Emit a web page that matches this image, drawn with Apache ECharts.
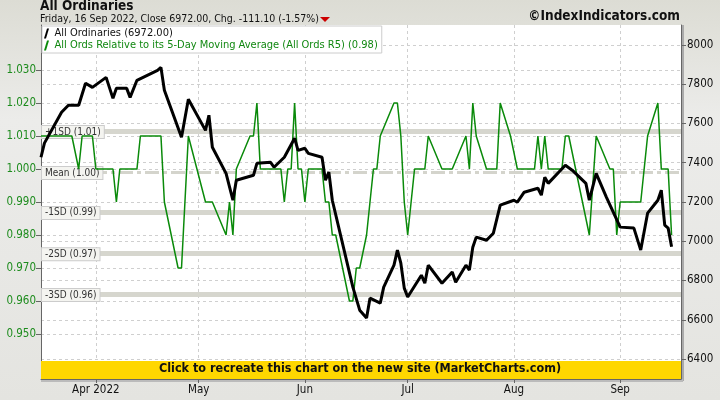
<!DOCTYPE html>
<html><head><meta charset="utf-8">
<script src="https://cdn.jsdelivr.net/npm/echarts@6/dist/echarts.min.js"></script>
<style>html,body{margin:0;padding:0;}#c{width:720px;height:400px;background:linear-gradient(#dcdcd4,#ececea 30%,#e4e4e0);}</style>
</head><body><div id="c"></div>
<script>
const priceData = [
['2022-03-16',7428],['2022-03-17',7500],['2022-03-22',7657],['2022-03-24',7693],['2022-03-27',7693],['2022-03-29',7805],['2022-03-31',7784],
['2022-04-04',7835],['2022-04-06',7728],['2022-04-07',7779],['2022-04-10',7779],['2022-04-11',7733],['2022-04-13',7820],['2022-04-19',7871],
['2022-04-20',7886],['2022-04-21',7769],['2022-04-26',7530],['2022-04-28',7723],['2022-05-03',7565],['2022-05-04',7642],['2022-05-05',7479],
['2022-05-09',7346],['2022-05-11',7209],['2022-05-12',7311],['2022-05-17',7336],['2022-05-18',7397],['2022-05-22',7402],['2022-05-23',7377],
['2022-05-26',7428],['2022-05-29',7525],['2022-05-30',7463],['2022-06-01',7474],['2022-06-02',7448],['2022-06-06',7428],['2022-06-07',7311],
['2022-06-08',7352],['2022-06-09',7209],['2022-06-15',6766],['2022-06-17',6649],['2022-06-19',6609],['2022-06-20',6710],['2022-06-23',6685],
['2022-06-24',6766],['2022-06-27',6878],['2022-06-28',6955],['2022-06-29',6888],['2022-06-30',6761],['2022-07-01',6716],['2022-07-05',6827],
['2022-07-06',6786],['2022-07-07',6878],['2022-07-11',6786],['2022-07-14',6843],['2022-07-15',6791],['2022-07-18',6878],['2022-07-19',6853],
['2022-07-20',6970],['2022-07-21',7021],['2022-07-24',7005],['2022-07-26',7041],['2022-07-28',7184],['2022-08-01',7209],['2022-08-02',7199],
['2022-08-04',7250],['2022-08-08',7270],['2022-08-09',7235],['2022-08-10',7326],['2022-08-11',7295],['2022-08-16',7387],['2022-08-18',7362],
['2022-08-22',7295],['2022-08-23',7209],['2022-08-25',7346],['2022-08-28',7224],['2022-09-01',7072],['2022-09-05',7067],['2022-09-07',6955],
['2022-09-09',7143],['2022-09-12',7209],['2022-09-13',7260],['2022-09-14',7082],['2022-09-15',7067],['2022-09-16',6972]];
const ratioData = [
['2022-03-16',1.01],['2022-03-25',1.01],['2022-03-27',1.00],['2022-03-28',1.01],['2022-03-31',1.01],['2022-04-01',1.00],['2022-04-06',1.00],
['2022-04-07',0.99],['2022-04-08',1.00],['2022-04-13',1.00],['2022-04-14',1.01],['2022-04-20',1.01],['2022-04-21',0.99],['2022-04-25',0.97],
['2022-04-26',0.97],['2022-04-28',1.01],['2022-05-03',0.99],['2022-05-05',0.99],['2022-05-09',0.98],['2022-05-10',0.99],['2022-05-11',0.98],
['2022-05-12',1.00],['2022-05-16',1.01],['2022-05-17',1.01],['2022-05-18',1.02],['2022-05-19',1.00],['2022-05-25',1.00],['2022-05-26',0.99],
['2022-05-27',1.00],['2022-05-28',1.00],['2022-05-29',1.02],['2022-05-30',1.00],['2022-05-31',1.00],['2022-06-01',0.99],['2022-06-02',1.00],
['2022-06-06',1.00],['2022-06-07',0.99],['2022-06-08',0.99],['2022-06-09',0.98],['2022-06-10',0.98],['2022-06-14',0.96],['2022-06-15',0.96],
['2022-06-16',0.97],['2022-06-17',0.97],['2022-06-19',0.98],['2022-06-20',0.99],['2022-06-21',1.00],['2022-06-22',1.00],['2022-06-23',1.01],
['2022-06-27',1.02],['2022-06-28',1.02],['2022-06-29',1.01],['2022-06-30',0.99],['2022-07-01',0.98],['2022-07-02',0.99],['2022-07-03',1.00],
['2022-07-06',1.00],['2022-07-07',1.01],['2022-07-11',1.00],['2022-07-14',1.00],['2022-07-18',1.01],['2022-07-19',1.00],['2022-07-20',1.02],
['2022-07-21',1.01],['2022-07-24',1.00],['2022-07-27',1.00],['2022-07-28',1.02],['2022-07-31',1.01],['2022-08-02',1.00],['2022-08-07',1.00],
['2022-08-08',1.01],['2022-08-09',1.00],['2022-08-10',1.01],['2022-08-11',1.00],['2022-08-15',1.00],['2022-08-16',1.01],['2022-08-17',1.01],
['2022-08-23',0.98],['2022-08-25',1.01],['2022-08-29',1.00],['2022-08-30',1.00],['2022-08-31',0.98],['2022-09-01',0.99],['2022-09-07',0.99],
['2022-09-09',1.01],['2022-09-12',1.02],['2022-09-13',1.00],['2022-09-15',1.00],['2022-09-16',0.98]];
const sdLevels = [1.0115, 0.9991, 0.987, 0.9745, 0.9621];
const sdLabels = ['+1SD (1.01)', 'Mean (1.00)', '-1SD (0.99)', '-2SD (0.97)', '-3SD (0.96)'];
const leftTicks = [0.95, 0.96, 0.97, 0.98, 0.99, 1.00, 1.01, 1.02, 1.03];
const rightTicks = [6400, 6600, 6800, 7000, 7200, 7400, 7600, 7800, 8000];
const monthTicks = ['2022-04-01', '2022-05-01', '2022-06-01', '2022-07-01', '2022-08-01', '2022-09-01'];
const monthLabels = ['Apr 2022', 'May', 'Jun', 'Jul', 'Aug', 'Sep'];

const F = '"DejaVu Sans Condensed", "DejaVu Sans"';
const ts = d => +new Date(d + 'T00:00:00');
const chart = echarts.init(document.getElementById('c'));
const monthTs = monthTicks.map(ts);
const xMin = ts('2022-03-16'), xMax = ts('2022-09-18') + 18 * 3600e3;
const G = {left: 41, right: 39, top: 25, bottom: 21};
const dash = {type: [3, 3], color: '#cfcfcf', width: 1};
const slant = 'path://M3,0 L5,0 L2,10 L0,10 Z';
chart.setOption({
  animation: false,
  textStyle: {fontFamily: F},
  graphic: [
    {type: 'rect', z: -10, shape: {x: 41, y: 25, width: 640, height: 354}, style: {fill: '#fff'}},
    {type: 'rect', z: 100, shape: {x: 41, y: 361, width: 640, height: 18}, style: {fill: '#ffd700'}},
    {type: 'text', z: 101, left: 'center', top: 362, style: {text: 'Click to recreate this chart on the new site (MarketCharts.com)', font: 'bold 12.5px ' + F, fill: '#111'}},
    {type: 'text', left: 40, top: -1, style: {text: 'All Ordinaries', font: 'bold 13.5px ' + F, fill: '#111'}},
    {type: 'text', left: 40, top: 14, style: {text: 'Friday, 16 Sep 2022, Close 6972.00, Chg. -111.10 (-1.57%)', font: '10.5px ' + F, fill: '#111'}},
    {type: 'polygon', shape: {points: [[320, 17], [330, 17], [325, 22]]}, style: {fill: '#cc0000'}},
    {type: 'text', right: 40, top: 9, style: {text: '©IndexIndicators.com', font: 'bold 13.5px ' + F, fill: '#111'}},
    {type: 'rect', shape: {x: 681, y: 25, width: 3, height: 356}, style: {fill: '#aaa'}},
    {type: 'rect', shape: {x: 41, y: 379, width: 642, height: 3}, style: {fill: '#bbb'}}
  ],
  legend: {
    left: 42, top: 26, orient: 'vertical', itemGap: 1, itemWidth: 6, itemHeight: 10,
    backgroundColor: '#fff', borderColor: '#ccc', borderWidth: 1, padding: [2, 4, 2, 2],
    textStyle: {fontSize: 11, fontFamily: F},
    data: [
      {name: 'All Ordinaries (6972.00)', icon: slant, textStyle: {color: '#111'}},
      {name: 'All Ords Relative to its 5-Day Moving Average (All Ords R5) (0.98)', icon: slant, textStyle: {color: '#118811'}}
    ]
  },
  grid: G,
  xAxis: {
    type: 'value', min: xMin, max: xMax,
    axisLine: {lineStyle: {color: '#666'}},
    axisTick: {customValues: monthTs, lineStyle: {color: '#666'}, length: 4},
    axisLabel: {customValues: monthTs, color: '#111', fontSize: 11.5, margin: 5,
      formatter: v => monthLabels[monthTs.indexOf(v)] || ''},
    splitLine: {show: true, lineStyle: dash}
  },
  yAxis: [
    {type: 'value', min: 1 - 210 / 3300, max: 1 + 144 / 3300, position: 'left',
      axisLine: {show: true, lineStyle: {color: '#666'}},
      axisTick: {show: true, customValues: leftTicks, lineStyle: {color: '#666'}},
      axisLabel: {customValues: leftTicks, color: '#1e8c1e', fontSize: 11.5, margin: 5, formatter: v => v.toFixed(3)},
      splitLine: {show: true, lineStyle: dash}},
    {type: 'value', min: 6400 - 20 / 39.3 * 200, max: 8000 + 20 / 39.3 * 200, position: 'right',
      axisLine: {show: true, lineStyle: {color: '#666'}},
      axisTick: {show: true, customValues: rightTicks, lineStyle: {color: '#666'}},
      axisLabel: {customValues: rightTicks, color: '#111', fontSize: 11.5, margin: 6, formatter: v => String(v)},
      splitLine: {show: true, lineStyle: dash}}
  ],
  series: [
    {name: 'All Ords Relative to its 5-Day Moving Average (All Ords R5) (0.98)', type: 'line', yAxisIndex: 0, z: 3,
      data: ratioData.map(p => [ts(p[0]), p[1]]), showSymbol: false, lineStyle: {color: '#0a8a0a', width: 1.5}, itemStyle: {color: '#0a8a0a'},
      markLine: {silent: true, symbol: 'none', z: 1, precision: 4,
        data: sdLevels.map((v, i) => [
          {coord: [xMin, v], name: sdLabels[i],
           lineStyle: i === 1 ? {color: '#d4d4cc', width: 3, type: [14, 4, 4, 4]} : {color: '#d6d6ce', width: 5, type: 'solid'}},
          {coord: [xMax, v]}]),
        label: {show: true, position: 'insideStartTop', distance: [1, 0], offset: [0, 7], formatter: p => p.name, fontSize: 10, color: '#333',
          backgroundColor: '#f4f4f0', borderColor: '#ccc', borderWidth: 1, padding: [1, 3]}}},
    {name: 'All Ordinaries (6972.00)', type: 'line', yAxisIndex: 1, z: 4,
      data: priceData.map(p => [ts(p[0]), p[1]]), showSymbol: false, lineStyle: {color: '#000', width: 3}, itemStyle: {color: '#000'}}
  ]
});
</script></body></html>
